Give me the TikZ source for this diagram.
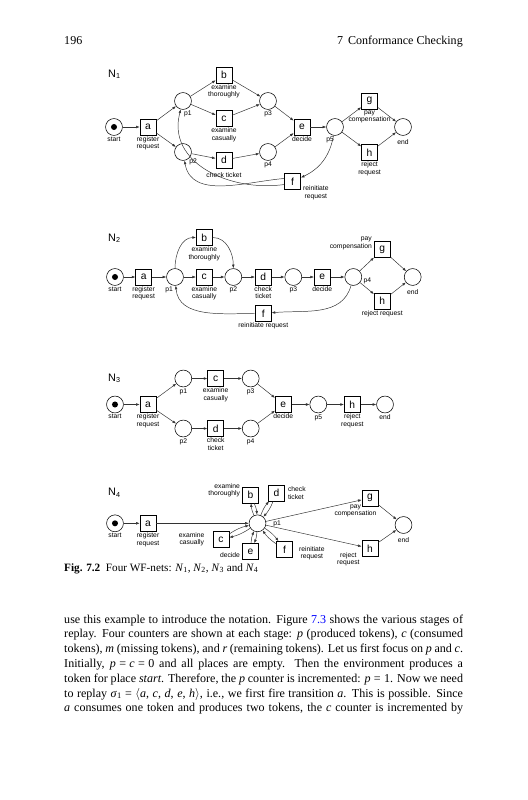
\documentclass[tikz,border=0pt]{standalone}
\usepackage{fontspec}
\setmainfont{Liberation Serif}
\setsansfont{Liberation Sans}
\usetikzlibrary{calc, positioning}
\usetikzlibrary{arrows.meta}

\newcommand{\lblfont}{\sffamily\fontsize{5.6}{6.2}\selectfont}
\newcommand{\eqs}{\hspace{2.8pt}=\hspace{2.8pt}}

\begin{document}
\begin{tikzpicture}[x=0.83pt, y=-0.83pt,
  place/.style={circle, draw, line width=0.45pt, minimum size=14pt, inner sep=0pt},
  trans/.style={rectangle, draw, line width=0.5pt, minimum size=13.3pt, inner sep=0pt,
    font=\sffamily\fontsize{8.5}{8.5}\selectfont},
  token/.style={circle, fill, minimum size=5pt, inner sep=0pt},
  lbl/.style={font=\lblfont, inner sep=0.8pt, align=center},
  arc/.style={draw=black!80, line width=0.4pt, -{Latex[length=3pt, width=2.2pt]}},
  netname/.style={font=\sffamily\fontsize{9}{9}\selectfont, anchor=west, inner sep=0pt}
]
\useasboundingbox (0,0) rectangle (527,800);

% running head
\node[anchor=base west, inner sep=0pt] (pageNo) at (64,45) {196};
\node[anchor=base east, inner sep=0pt] (runHead) at (463,45) {7\hspace{4pt}Conformance Checking};

% ---- N1
\node[netname] (nameA) at (108,74) {N\textsubscript{1}};
\node[place] (Astart) at (114,127) {};
\node[token] (AstartTok) at (Astart) {};
\node[trans] (Aa) at (148,127) {a};
\node[place] (Ap1) at (183,101) {};
\node[place] (Ap2) at (183,152) {};
\node[trans] (Ab) at (224,75) {b};
\node[trans] (Ac) at (224,118.5) {c};
\node[trans] (Ad) at (224,160) {d};
\node[place] (Ap3) at (268,101) {};
\node[place] (Ap4) at (268,152) {};
\node[trans] (Ae) at (302,127) {e};
\node[place] (Ap5) at (335,127) {};
\node[trans] (Ag) at (369.5,101) {g};
\node[trans] (Ah) at (369.5,152.5) {h};
\node[place] (Aend) at (403,127) {};
\node[trans] (Af) at (292.5,181.5) {f};

\node[lbl, below] (AstartL) at (Astart.south) {start};
\node[lbl, below] (AaL) at (Aa.south) {register\\request};
\node[lbl, below right] (Ap1L) at (Ap1.south) {p1};
\node[lbl, anchor=north west, inner sep=0pt] (Ap2L) at (Ap2.south east) {p2};
\node[lbl, below] (AbL) at (Ab.south) {examine\\thoroughly};
\node[lbl, below] (AcL) at (Ac.south) {examine\\casually};
\node[lbl, below=2.5pt] (AdL) at (Ad.south) {check ticket};
\node[lbl, below] (Ap3L) at (Ap3.south) {p3};
\node[lbl, below] (Ap4L) at (Ap4.south) {p4};
\node[lbl, below] (AeL) at (Ae.south) {decide};
\node[lbl, below left] (Ap5L) at (Ap5.south) {p5};
\node[lbl, below] (AgL) at (Ag.south) {pay\\compensation};
\node[lbl, below] (AhL) at (Ah.south) {reject\\request};
\node[lbl, below=2.5pt] (AendL) at (Aend.south) {end};
\node[lbl, anchor=north west] (AfL) at ($(Af.east)+(1,3)$) {reinitiate\\request};

\draw[arc] (Astart) -- (Aa);
\draw[arc] (Aa) -- (Ap1);
\draw[arc] (Aa) -- (Ap2);
\draw[arc] (Ap1) -- (Ab);
\draw[arc] (Ap1) -- (Ac);
\draw[arc] (Ap2) -- (Ad);
\draw[arc] (Ab) -- (Ap3);
\draw[arc] (Ac) -- (Ap3);
\draw[arc] (Ad) -- (Ap4);
\draw[arc] (Ap3) -- (Ae);
\draw[arc] (Ap4) -- (Ae);
\draw[arc] (Ae) -- (Ap5);
\draw[arc] (Ap5) -- (Ag);
\draw[arc] (Ap5) -- (Ah);
\draw[arc] (Ag) -- (Aend);
\draw[arc] (Ah) -- (Aend);
\draw[arc] (Ap5) to[out=-100, in=25] (Af);
\draw[arc] (Af.160) to[out=185, in=-80] (Ap2);
\draw[arc] (Af.200) to[out=188, in=-105, looseness=1.1] (Ap1);

% ---- N2
\node[netname] (nameB) at (108,238) {N\textsubscript{2}};
\node[place] (Bstart) at (115,277) {};
\node[token] (BstartTok) at (Bstart) {};
\node[trans] (Ba) at (143.7,277) {a};
\node[place] (Bp1) at (175,277) {};
\node[trans] (Bb) at (204.3,237.5) {b};
\node[trans] (Bc) at (204.3,277) {c};
\node[place] (Bp2) at (233.3,277) {};
\node[trans] (Bd) at (263.3,277) {d};
\node[place] (Bp3) at (293.3,277) {};
\node[trans] (Be) at (322.3,277) {e};
\node[place] (Bp4) at (353.3,277) {};
\node[trans] (Bg) at (382.3,249.7) {g};
\node[trans] (Bh) at (382.3,301) {h};
\node[place] (Bend) at (412.7,277) {};
\node[trans] (Bf) at (263.3,313.5) {f};

\node[lbl, below] (BstartL) at (Bstart.south) {start};
\node[lbl, below] (BaL) at (Ba.south) {register\\request};
\node[lbl, below left] (Bp1L) at ($(Bp1.south)+(-1,0)$) {p1};
\node[lbl, below] (BbL) at (Bb.south) {examine\\thoroughly};
\node[lbl, below] (BcL) at (Bc.south) {examine\\casually};
\node[lbl, below] (Bp2L) at (Bp2.south) {p2};
\node[lbl, below] (BdL) at (Bd.south) {check\\ticket};
\node[lbl, below] (Bp3L) at (Bp3.south) {p3};
\node[lbl, below] (BeL) at (Be.south) {decide};
\node[lbl, anchor=west] (Bp4L) at ($(Bp4.east)+(0.5,4)$) {p4};
\node[lbl, anchor=south east, align=right] (BgL) at ($(Bg.west)+(-1,1)$) {pay\\compensation};
\node[lbl, below] (BhL) at (Bh.south) {reject request};
\node[lbl, below=2.5pt] (BendL) at (Bend.south) {end};
\node[lbl, below] (BfL) at (Bf.south) {reinitiate request};

\draw[arc] (Bstart) -- (Ba);
\draw[arc] (Ba) -- (Bp1);
\draw[arc] (Bp1) -- (Bc);
\draw[arc] (Bc) -- (Bp2);
\draw[arc] (Bp2) -- (Bd);
\draw[arc] (Bd) -- (Bp3);
\draw[arc] (Bp3) -- (Be);
\draw[arc] (Be) -- (Bp4);
\draw[arc] (Bp4) -- (Bg);
\draw[arc] (Bp4) -- (Bh);
\draw[arc] (Bg) -- (Bend);
\draw[arc] (Bh) -- (Bend);
\draw[arc] (Bp1) to[out=90, in=180] (Bb);
\draw[arc] (Bb) to[out=0, in=90] (Bp2);
\draw[arc] (Bp4) to[out=-105, in=5] (Bf);
\draw[arc] (Bf) to[out=180, in=-85] (Bp1);

% ---- N3
\node[netname] (nameC) at (108,378.3) {N\textsubscript{3}};
\node[place] (Cstart) at (115,404.5) {};
\node[token] (CstartTok) at (Cstart) {};
\node[trans] (Ca) at (148,404.5) {a};
\node[place] (Cp1) at (183.3,378.5) {};
\node[trans] (Cc) at (215.7,378.5) {c};
\node[place] (Cp3) at (250.7,378.5) {};
\node[place] (Cp2) at (183.3,428.5) {};
\node[trans] (Cd) at (215.7,428.5) {d};
\node[place] (Cp4) at (250.7,428.5) {};
\node[trans] (Ce) at (283.3,404.5) {e};
\node[place] (Cp5) at (318.3,404.5) {};
\node[trans] (Ch) at (352.3,404.5) {h};
\node[place] (Cend) at (385,404.5) {};

\node[lbl, below] (CstartL) at (Cstart.south) {start};
\node[lbl, below] (CaL) at (Ca.south) {register\\request};
\node[lbl, below] (Cp1L) at (Cp1.south) {p1};
\node[lbl, below] (CcL) at (Cc.south) {examine\\casually};
\node[lbl, below] (Cp3L) at (Cp3.south) {p3};
\node[lbl, below] (Cp2L) at (Cp2.south) {p2};
\node[lbl, below] (CdL) at (Cd.south) {check\\ticket};
\node[lbl, below] (Cp4L) at (Cp4.south) {p4};
\node[lbl, below] (CeL) at (Ce.south) {decide};
\node[lbl, below] (Cp5L) at (Cp5.south) {p5};
\node[lbl, below] (ChL) at (Ch.south) {reject\\request};
\node[lbl, below] (CendL) at (Cend.south) {end};

\draw[arc] (Cstart) -- (Ca);
\draw[arc] (Ca) -- (Cp1);
\draw[arc] (Ca) -- (Cp2);
\draw[arc] (Cp1) -- (Cc);
\draw[arc] (Cc) -- (Cp3);
\draw[arc] (Cp2) -- (Cd);
\draw[arc] (Cd) -- (Cp4);
\draw[arc] (Cp3) -- (Ce);
\draw[arc] (Cp4) -- (Ce);
\draw[arc] (Ce) -- (Cp5);
\draw[arc] (Cp5) -- (Ch);
\draw[arc] (Ch) -- (Cend);

% ---- N4
\node[netname] (nameD) at (108,492.7) {N\textsubscript{4}};
\node[place] (Dstart) at (115,523.3) {};
\node[token] (DstartTok) at (Dstart) {};
\node[trans] (Da) at (148,523.3) {a};
\node[place] (Dp1) at (257.5,523.3) {};
\node[trans] (Db) at (250.5,495) {b};
\node[trans] (Dd) at (276.5,493) {d};
\node[trans] (Dc) at (221,539.5) {c};
\node[trans] (De) at (250.5,551.5) {e};
\node[trans] (Df) at (284.5,549.5) {f};
\node[trans] (Dg) at (370,498) {g};
\node[trans] (Dh) at (370,548.3) {h};
\node[place] (Dend) at (403.5,525) {};

\node[lbl, below] (DstartL) at (Dstart.south) {start};
\node[lbl, below] (DaL) at (Da.south) {register\\request};
\node[lbl, anchor=west] (Dp1L) at ($(Dp1.east)+(6,1)$) {p1};
\node[lbl, anchor=east, align=right] (DbL) at ($(Db.west)+(-1,-4.5)$) {examine\\thoroughly};
\node[lbl, anchor=west, align=left] (DdL) at ($(Dd.east)+(2,0)$) {check\\ticket};
\node[lbl, anchor=east] (DcL) at ($(Dc.west)+(-7,0)$) {examine\\casually};
\node[lbl, anchor=east] (DeL) at ($(De.west)+(-1,4)$) {decide};
\node[lbl, anchor=west] (DfL) at ($(Df.east)+(5,3.5)$) {reinitiate\\request};
\node[lbl, anchor=north] (DgL) at ($(Dg.south)+(-14.5,-3)$) {pay\\compensation};
\node[lbl, anchor=north] (DhL) at ($(Dh.south west)+(-13.4,-5.3)$) {reject\\request};
\node[lbl, below=2.5pt] (DendL) at (Dend.south) {end};

\draw[arc] (Dstart) -- (Da);
\draw[arc] (Da) -- (Dp1);
\foreach \t in {Db, Dd, Dc, De, Df} {
  \draw[arc] (Dp1) to[bend left=10] (\t);
  \draw[arc] (\t) to[bend left=10] (Dp1);
}
\draw[arc] (Dp1) -- (Dg);
\draw[arc] (Dp1) -- (Dh);
\draw[arc] (Dg) -- (Dend);
\draw[arc] (Dh) -- (Dend);

% caption
\node[anchor=base west, inner sep=0pt, font=\fontsize{9.3}{11}\selectfont] (figCap) at (64,571)
  {\textbf{Fig. 7.2}\enspace Four WF-nets: \textit{N}\textsubscript{1}, \textit{N}\textsubscript{2},
   \textit{N}\textsubscript{3} and \textit{N}\textsubscript{4}};

% body text
\node[anchor=base west, text width=331pt, align=justify, inner sep=0pt,
  font=\fontsize{10}{12.3}\selectfont] (bodyText) at (64,623) {\parfillskip=0pt
  use this example to introduce the notation. Figure \textcolor{blue}{7.3} shows the various stages of\linebreak
  replay. Four counters are shown at each stage: \textit{p} (produced tokens), \textit{c} (consumed\linebreak
  tokens), \textit{m} (missing tokens), and \textit{r} (remaining tokens). Let us first focus on \textit{p} and \textit{c}.\linebreak
  Initially, \textit{p}\eqs\textit{c}\eqs 0 and all places are empty. Then the environment produces a\linebreak
  token for place \textit{start}. Therefore, the \textit{p} counter is incremented: \textit{p}\eqs 1. Now we need\linebreak
  to replay \textit{σ}\textsubscript{1}\eqs$\langle$\textit{a}, \textit{c}, \textit{d}, \textit{e}, \textit{h}$\rangle$, i.e., we first fire transition \textit{a}. This is possible. Since\linebreak
  \textit{a} consumes one token and produces two tokens, the \textit{c} counter is incremented by\par};
\end{tikzpicture}
\end{document}
